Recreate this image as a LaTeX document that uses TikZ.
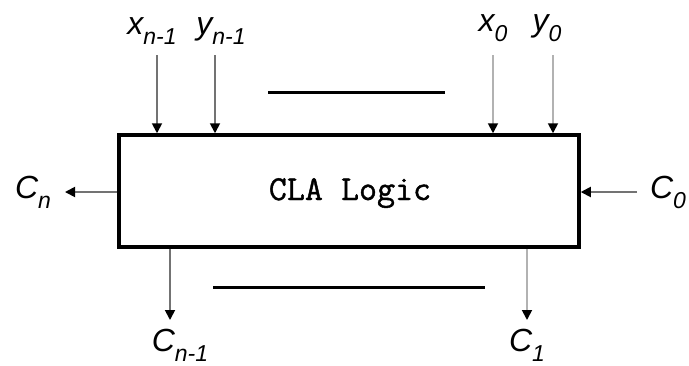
\documentclass[tikz,border=0pt]{standalone}
\usepackage{fontspec}
\newfontfamily\lbfont{Liberation Sans}
\newfontfamily\ttbold{Latin Modern Mono}[FakeBold=1.2]
\usetikzlibrary{arrows.meta}
\newcommand{\lab}[2]{{\lbfont\itshape\fontsize{32}{32}\selectfont #1\raisebox{-10pt}{\fontsize{23}{23}\selectfont #2}}}
\tikzset{
  arr/.style={draw=black!55, line width=1.8pt, -{Triangle[length=10pt,width=10pt,black]}},
  arrl/.style={arr, draw=black!30},
  bar/.style={line width=3pt},
  lbl/.style={inner sep=0pt, anchor=center},
}
\begin{document}
\begin{tikzpicture}[x=1pt,y=-1pt]
\useasboundingbox (0,0) rectangle (689,365);
\node[draw, line width=3.5pt, minimum width=460pt, minimum height=112pt, inner sep=0pt] (box) at (349,191) {};
\node[font=\ttbold\fontsize{35}{35}\selectfont, anchor=base, inner sep=0pt] (title) at (350,200) {CLA Logic};
% top inputs
\node[lbl] (lxn) at (152,31) {\lab{x}{n-1}};
\node[lbl] (lyn) at (221,31) {\lab{y}{n-1}};
\node[lbl] (lx0) at (493,28) {\lab{x}{0}};
\node[lbl] (ly0) at (547,28) {\lab{y}{0}};
\coordinate (axn) at (157,55);
\coordinate (ayn) at (215,55);
\coordinate (ax0) at (493,55);
\coordinate (ay0) at (553,55);
\draw[arr] (axn) -- (axn |- box.north);
\draw[arr] (ayn) -- (ayn |- box.north);
\draw[arrl] (ax0) -- (ax0 |- box.north);
\draw[arrl] (ay0) -- (ay0 |- box.north);
% sides
\node[lbl] (lcn) at (33,192) {\lab{C}{n}};
\node[lbl] (lc0) at (668,192) {\lab{C}{0}};
\coordinate (acn) at (65,192);
\coordinate (ac0) at (637,192);
\draw[arr] (acn -| box.west) -- (acn);
\draw[arr] (ac0) -- (ac0 -| box.east);
% bottom outputs
\node[lbl] (lcn1) at (180,345) {\lab{C}{n-1}};
\node[lbl] (lc1) at (527,345) {\lab{C}{1}};
\coordinate (acn1) at (170,320);
\coordinate (ac1) at (527,320);
\draw[arr] (acn1 |- box.south) -- (acn1);
\draw[arrl] (ac1 |- box.south) -- (ac1);
% bars
\coordinate (t1) at (268,92);
\coordinate (t2) at (445,92);
\coordinate (b1) at (213,287);
\coordinate (b2) at (485,287);
\draw[bar] (t1) -- (t2);
\draw[bar] (b1) -- (b2);
\end{tikzpicture}
\end{document}
